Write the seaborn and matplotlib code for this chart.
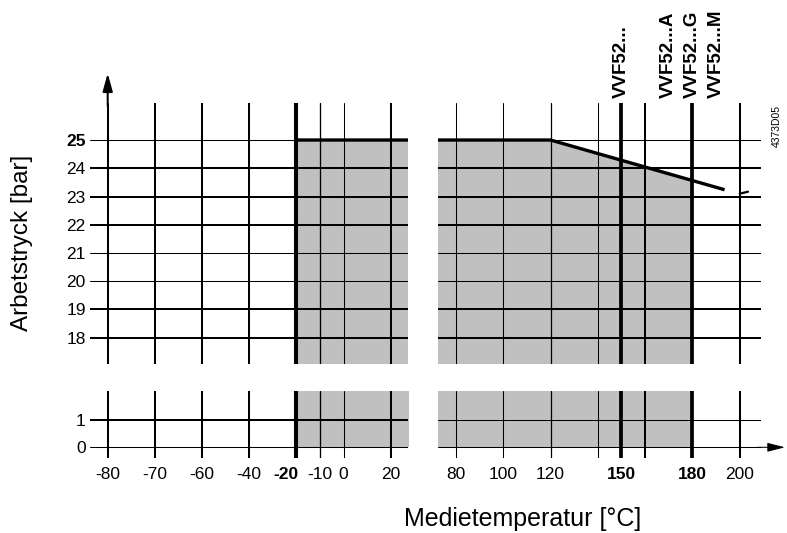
import numpy as np
import matplotlib
matplotlib.use("Agg")
import matplotlib.pyplot as plt
from matplotlib.transforms import ScaledTranslation, blended_transform_factory
import seaborn as sns

# -------------------------------
# 1. Data
# -------------------------------

# vertical grid lines, medium temperature in °C
left_grid = [-80, -70, -60, -40, -20, -10, 0, 20]
right_grid = [80, 100, 120, 140, 150, 160, 180, 200]
left_labels = [-80, -70, -60, -40, -20, -10, 0, 20]
right_labels = [80, 100, 120, 150, 180, 200]
bold_temps = [-20, 150, 180]

# horizontal grid lines, working pressure in bar
upper_bar = [18, 19, 20, 21, 22, 23, 24, 25]
lower_bar = [0, 1]
bold_bar = [25]

# max working pressure curve
curve_temp = [-20, 120, 193.6]
curve_bar = [25, 25, 23.24]

# shaded working range (ends at 180 °C)
range_temp = [-20, 120, 180]

# little stub after the curve end
stub_temp = [200, 203.5]
stub_bar = [23.1, 23.17]

# valve variants and their temperature marks
variant_names = ["VVF52...", "VVF52...A", "VVF52...G", "VVF52...M"]
variant_temp = [150, 170, 180, 190]

# -------------------------------
# 2. Styles
# -------------------------------
vline_lw = {-80: 1.45, -70: 1.45, -60: 1.45, -40: 1.45, -20: 2.9, -10: 0.95, 0: 0.75, 20: 1.45,
            80: 0.75, 100: 0.75, 120: 0.9, 140: 0.75, 150: 2.7, 160: 1.45, 180: 2.7, 200: 1.45}
upper_hlw = {25: 0.75, 24: 1.45, 23: 1.45, 22: 1.45, 21: 0.75, 20: 0.75, 19: 1.45, 18: 1.45}
lower_left_hlw = {1: 1.45, 0: 0.75}
lower_right_hlw = {1: 0.75, 0: 0.75}
shade = "#c0c0c0"

sns.set_theme(style="white")
plt.rcParams["font.family"] = ["Liberation Sans", "DejaVu Sans"]

W, H = 787, 533
fig = plt.figure(figsize=(W / 100, H / 100), dpi=100)


def box(x0, x1, y0, y1):
    # pixel box -> figure fraction
    return [x0 / W, 1 - y1 / H, (x1 - x0) / W, (y1 - y0) / H]


ax_ul = fig.add_axes(box(90, 407.7, 103.3, 364))
ax_ur = fig.add_axes(box(437.7, 761, 103.3, 364))
ax_ll = fig.add_axes(box(90, 407.7, 391, 458.3))
ax_lr = fig.add_axes(box(437.7, 761, 391, 458.3))
axes = [ax_ul, ax_ur, ax_ll, ax_lr]

# the left part of the temperature axis is compressed below -40 °C
knot_temp = [-90, -80, -70, -60, -40, 400]
knot_pos = [-110, -100, -80, -60, -40, 400]


def fwd(t):
    return np.interp(t, knot_temp, knot_pos)


def inv(p):
    return np.interp(p, knot_pos, knot_temp)


for ax in [ax_ul, ax_ll]:
    ax.set_xscale("function", functions=(fwd, inv))

range_bar = np.interp(range_temp, curve_temp, curve_bar)

# -------------------------------
# 3. Draw
# -------------------------------
for ax in [ax_ul, ax_ur]:
    ax.fill_between(range_temp, range_bar, 0, color=shade, lw=0, zorder=1)
    for b in upper_bar:
        ax.axhline(b, color="black", lw=upper_hlw[b], zorder=2)
    sns.lineplot(x=curve_temp, y=curve_bar, ax=ax, color="black", linewidth=2.4,
                 solid_capstyle="butt", zorder=4)

for ax, hlw in [(ax_ll, lower_left_hlw), (ax_lr, lower_right_hlw)]:
    ax.fill_between([range_temp[0], range_temp[-1]], 0, 5, color=shade, lw=0, zorder=1)
    for b in lower_bar:
        ax.axhline(b, color="black", lw=hlw[b], zorder=2)

for ax in [ax_ul, ax_ll]:
    for t in left_grid:
        ax.axvline(t, color="black", lw=vline_lw[t], zorder=3)
for ax in [ax_ur, ax_lr]:
    for t in right_grid:
        ax.axvline(t, color="black", lw=vline_lw[t], zorder=3)

sns.lineplot(x=stub_temp, y=stub_bar, ax=ax_ur, color="black", linewidth=1.6, zorder=4)

# limits
for ax in [ax_ul, ax_ll]:
    ax.set_xlim(-87.5, 27.2)
for ax in [ax_ur, ax_lr]:
    ax.set_xlim(72.3, 209.0)
for ax in [ax_ul, ax_ur]:
    ax.set_ylim(17.07, 26.3)
for ax in [ax_ll, ax_lr]:
    ax.set_ylim(-0.403, 2.062)

# ticks and labels
for ax in axes:
    sns.despine(ax=ax, left=True, bottom=True)
    ax.tick_params(length=0, labelsize=12.5, colors="black")
    ax.set_xlabel("")
    ax.set_ylabel("")

ax_ul.set_xticks([])
ax_ur.set_xticks([])
ax_ur.set_yticks([])
ax_lr.set_yticks([])
ax_ul.set_yticks(upper_bar, labels=[str(b) for b in upper_bar])
ax_ll.set_yticks(lower_bar, labels=[str(b) for b in lower_bar])
ax_ll.set_xticks(left_labels, labels=[str(t) for t in left_labels])
ax_lr.set_xticks(right_labels, labels=[str(t) for t in right_labels])
for ax in [ax_ul, ax_ll]:
    ax.tick_params(axis="y", pad=3)
for ax in [ax_ll, ax_lr]:
    ax.tick_params(axis="x", pad=6)

for lbl, b in zip(ax_ul.get_yticklabels(), upper_bar):
    if b in bold_bar:
        lbl.set_fontweight("bold")
for ax, temps in [(ax_ll, left_labels), (ax_lr, right_labels)]:
    for lbl, t in zip(ax.get_xticklabels(), temps):
        if t in bold_temps:
            lbl.set_fontweight("bold")
        if t == -20:
            # keep "-20" clear of "-10"
            lbl.set_transform(lbl.get_transform() + ScaledTranslation(-0.1, 0, fig.dpi_scale_trans))

# axis arrows
ax_ul.annotate("", xy=(-80, 1.115), xytext=(-80, 0.99),
               xycoords=("data", "axes fraction"), textcoords=("data", "axes fraction"),
               arrowprops=dict(arrowstyle="-|>,head_length=0.9,head_width=0.25", mutation_scale=12,
                               lw=1.45, color="black", shrinkA=0, shrinkB=0),
               annotation_clip=False)
ax_lr.annotate("", xy=(1.074, 0), xytext=(0.99, 0),
               xycoords=("axes fraction", "data"), textcoords=("axes fraction", "data"),
               arrowprops=dict(arrowstyle="-|>,head_length=0.98,head_width=0.25", mutation_scale=11,
                               lw=0.75, color="black", shrinkA=0, shrinkB=0),
               annotation_clip=False)

# variant labels above the plot
top = blended_transform_factory(ax_ur.transData, ax_ur.transAxes)
for name, t in zip(variant_names, variant_temp):
    ax_ur.text(t, 1.021, name, transform=top, rotation=90, ha="center", va="bottom",
               fontsize=13.5, fontweight="bold", color="black")

fig.text(21.7 / W, 1 - 243 / H, "Arbetstryck [bar]", rotation=90, ha="center", va="center",
         fontsize=17.5, color="black")
fig.text(523 / W, 1 - 526 / H, "Medietemperatur [°C]", ha="center", va="baseline",
         fontsize=18, color="black")
fig.text(777 / W, 1 - 126 / H, "4373D05", rotation=90, ha="center", va="center",
         fontsize=7.5, color="black")

fig.savefig("out.png", dpi=100, facecolor="white")
plt.close()
